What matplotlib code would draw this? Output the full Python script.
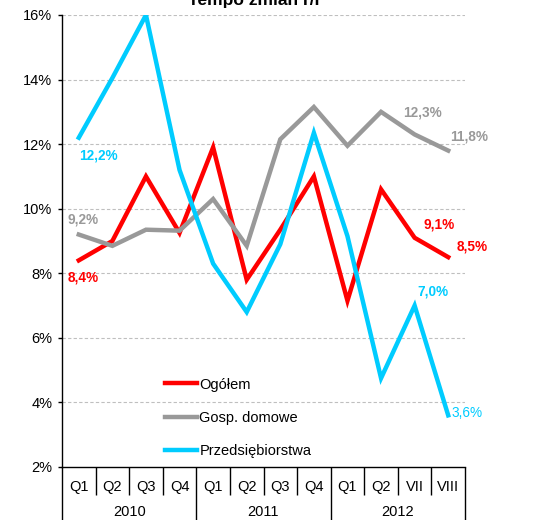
import numpy as np
import matplotlib
matplotlib.use("Agg")
import matplotlib.pyplot as plt
import matplotlib.transforms as mtrans

plt.rcParams['font.family'] = ['Liberation Sans', 'DejaVu Sans']

categories = ["Q1", "Q2", "Q3", "Q4", "Q1", "Q2", "Q3", "Q4", "Q1", "Q2", "VII", "VIII"]
years = ["2010", "2011", "2012"]
year_sizes = [4, 4, 4]

ogolem = [8.4, 9.0, 11.0, 9.25, 11.9, 7.8, 9.35, 11.0, 7.15, 10.6, 9.1, 8.5]
gosp_domowe = [9.2, 8.85, 9.35, 9.32, 10.3, 8.85, 12.15, 13.15, 11.95, 13.0, 12.3, 11.8]
przedsiebiorstwa = [12.2, 14.05, 16.0, 11.2, 8.3, 6.8, 8.9, 12.35, 9.15, 4.75, 7.0, 3.6]

red = "#FF0000"
grey = "#999999"
cyan = "#00CCFF"

fig = plt.figure(figsize=(5.51, 5.2), dpi=100)
ax = fig.add_axes([62/551, 1-467/520, 403/551, 452/520])

x = np.arange(len(categories))
ax.plot(x, ogolem, color=red, lw=3.2, label="Ogółem", solid_joinstyle='miter', zorder=3)
ax.plot(x, gosp_domowe, color=grey, lw=3.2, label="Gosp. domowe", solid_joinstyle='miter', zorder=3)
ax.plot(x, przedsiebiorstwa, color=cyan, lw=3.2, label="Przedsiębiorstwa", solid_joinstyle='miter', zorder=3)

ax.set_xlim(-0.5, len(categories)-0.5)
ax.set_ylim(2, 16)
ax.set_yticks(np.arange(2, 17, 2))
ax.set_yticklabels([f"{v}%" for v in range(2, 17, 2)], fontsize=10.5)
ax.tick_params(axis='y', length=3, width=1, pad=4)
for v in range(4, 17, 2):
    ax.axhline(v, color="#bfbfbf", lw=0.8, ls=(0, (3, 2)), zorder=1)

for s in ["top", "right"]:
    ax.spines[s].set_visible(False)
ax.spines["left"].set_linewidth(1)
ax.spines["bottom"].set_linewidth(1)

# category table below the axis
bounds = np.cumsum([0] + year_sizes) - 0.5
ax.set_xticks(bounds)
ax.set_xticklabels([])
ax.tick_params(axis='x', which='major', length=40, width=1, direction='out')
inner = [b + 0.5 for b in range(len(categories) - 1) if (b + 0.5) not in bounds]
ax.set_xticks(inner, minor=True)
ax.tick_params(axis='x', which='minor', length=20, width=1, direction='out')

trans = mtrans.blended_transform_factory(ax.transData, ax.transAxes)
for i, c in enumerate(categories):
    ax.text(i, -20/452, c, transform=trans, ha='center', va='center', fontsize=10.5)
for j, yr in enumerate(years):
    ax.text((bounds[j] + bounds[j+1]) / 2, -45/452, yr, transform=trans,
            ha='center', va='center', fontsize=10.5)

def fmt(v):
    return f"{v:.1f}%".replace(".", ",")

# data labels (index, series, colour, offset in points, bold)
labels = [
    (0, przedsiebiorstwa, cyan, (14, -13), True),
    (0, gosp_domowe, grey, (3, 10.5), True),
    (0, ogolem, red, (3.5, -12.5), True),
    (10, gosp_domowe, grey, (6, 15.5), True),
    (11, gosp_domowe, grey, (15, 10), True),
    (10, ogolem, red, (17.5, 9.3), True),
    (11, ogolem, red, (17, 8), True),
    (10, przedsiebiorstwa, cyan, (13, 10), True),
    (11, przedsiebiorstwa, cyan, (13.5, 1.8), False),
]
for i, ser, col, off, bold in labels:
    ax.annotate(fmt(ser[i]), (i, ser[i]), xytext=off, textcoords='offset points',
                ha='center', va='center', color=col, fontsize=9.8,
                fontweight='bold' if bold else 'normal', annotation_clip=False)

ax.legend(loc='upper left', bbox_to_anchor=(0.256, 0.198), frameon=False,
          fontsize=10.5, handlelength=2.2, handletextpad=0.15, labelspacing=1.33,
          borderpad=0, borderaxespad=0)

fig.text(255/551, 1-5/520, "Tempo zmian r/r", ha='center', va='baseline',
         fontsize=12.5, fontweight='bold')

fig.savefig("out.png", dpi=100)
